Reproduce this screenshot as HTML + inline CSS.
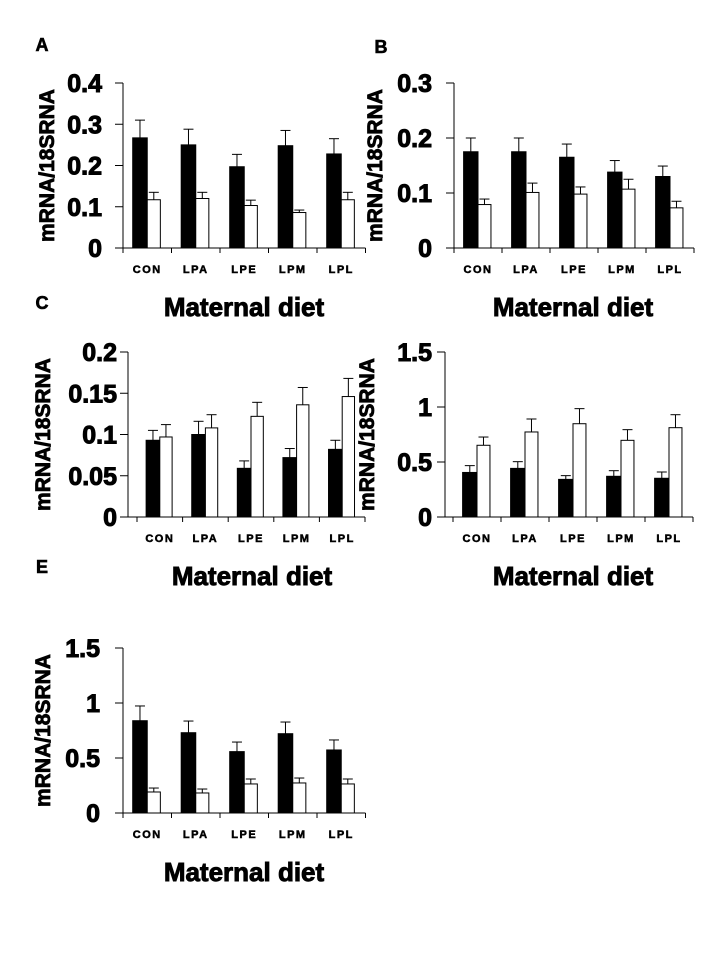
<!DOCTYPE html>
<html><head><meta charset="utf-8"><style>
html,body{margin:0;padding:0;background:#fff;}
svg{display:block;font-family:"Liberation Sans",Arial,sans-serif;font-weight:bold;}
</style></head><body>
<svg id="fig" width="717" height="955" viewBox="0 0 717 955" xmlns="http://www.w3.org/2000/svg"></svg>
<script>
const categories = ["CON","LPA","LPE","LPM","LPL"];
const aBlack = [0.267,0.25,0.197,0.248,0.228];
const aBlackErr = [0.31,0.288,0.227,0.285,0.265];
const aWhite = [0.117,0.12,0.103,0.086,0.117];
const aWhiteErr = [0.135,0.135,0.116,0.092,0.135];
const aTicks = ["0","0.1","0.2","0.3","0.4"];
const bBlack = [0.175,0.175,0.165,0.138,0.13];
const bBlackErr = [0.2,0.2,0.189,0.159,0.149];
const bWhite = [0.079,0.101,0.098,0.107,0.073];
const bWhiteErr = [0.089,0.118,0.111,0.125,0.085];
const bTicks = ["0","0.1","0.2","0.3"];
const cBlack = [0.093,0.1,0.059,0.072,0.082];
const cBlackErr = [0.105,0.116,0.068,0.083,0.093];
const cWhite = [0.097,0.108,0.122,0.136,0.146];
const cWhiteErr = [0.112,0.124,0.139,0.157,0.168];
const cTicks = ["0","0.05","0.1","0.15","0.2"];
const dBlack = [0.405,0.442,0.342,0.37,0.352];
const dBlackErr = [0.467,0.503,0.376,0.421,0.409];
const dWhite = [0.652,0.773,0.848,0.697,0.812];
const dWhiteErr = [0.727,0.891,0.985,0.794,0.93];
const dTicks = ["0","0.5","1","1.5"];
const eBlack = [0.839,0.73,0.558,0.721,0.573];
const eBlackErr = [0.973,0.836,0.645,0.827,0.664];
const eWhite = [0.191,0.182,0.264,0.273,0.264];
const eWhiteErr = [0.227,0.218,0.309,0.318,0.309];
const eTicks = ["0","0.5","1","1.5"];

const NS="http://www.w3.org/2000/svg";
const svg=document.getElementById('fig');
function mk(tag,attrs,parent,text){const e=document.createElementNS(NS,tag);for(const k in attrs)e.setAttribute(k,attrs[k]);if(text!==undefined)e.textContent=text;(parent||svg).appendChild(e);return e;}

function panel(id,letter,letterX,letterY,ax,top,zero,x0,gw,labelGap,yLabX,titleX,ticks,black,blackErr,white,whiteErr){
  const g=mk('g',{});
  
  
  const maxV=parseFloat(ticks[ticks.length-1]);
  const y=v=>zero-(v/maxV)*(zero-top);
  const xg=i=>x0+i*gw;
  if(letter){const t=mk('text',{x:letterX,y:letterY,'font-size':18,'text-anchor':'middle',stroke:'#000','stroke-width':0.6},g,letter);
    
    }
  const yl=mk('line',{x1:ax,y1:top,x2:ax,y2:zero,stroke:'#000','stroke-width':1},g);
  
  
  const xEnd=x0+5*gw;
  const xl=mk('line',{x1:ax-8,y1:zero,x2:xEnd,y2:zero,stroke:'#000','stroke-width':1},g);
  
  
  ticks.forEach(tv=>{
    const v=parseFloat(tv);
    mk('line',{x1:ax-8,y1:y(v),x2:ax,y2:y(v),stroke:'#000'},g);
    const t=mk('text',{x:ax-labelGap,y:y(v)+9,'font-size':25,'text-anchor':'end',stroke:'#000','stroke-width':1},g,tv);
    
    
  });
  for(let i=0;i<=5;i++) mk('line',{x1:xg(i),y1:zero,x2:xg(i),y2:zero+5,stroke:'#000'},g);
  const bw=gw*0.3;
  categories.forEach((c,i)=>{
    const cx=xg(i)+gw/2;
    const bx=cx-bw;
    const b=mk('rect',{x:bx,y:y(black[i]),width:bw,height:zero-y(black[i]),fill:'#000',stroke:'#000'},g);
    
    
    mk('line',{x1:bx+bw/2,y1:y(black[i]),x2:bx+bw/2,y2:y(blackErr[i]),stroke:'#000'},g);
    mk('line',{x1:bx+bw/2-5,y1:y(blackErr[i]),x2:bx+bw/2+5,y2:y(blackErr[i]),stroke:'#000'},g);
    const w=mk('rect',{x:cx,y:y(white[i]),width:bw*0.9,height:zero-y(white[i]),fill:'#fff',stroke:'#000'},g);
    
    
    const wc=cx+bw*0.45;
    mk('line',{x1:wc,y1:y(white[i]),x2:wc,y2:y(whiteErr[i]),stroke:'#000'},g);
    mk('line',{x1:wc-5,y1:y(whiteErr[i]),x2:wc+5,y2:y(whiteErr[i]),stroke:'#000'},g);
    const t=mk('text',{x:cx,y:zero+25,'font-size':11,'text-anchor':'middle','letter-spacing':'1.5',stroke:'#000','stroke-width':0.5},g,c);
    
    
  });
  const yt=mk('text',{x:0,y:0,'font-size':21,'text-anchor':'middle',stroke:'#000','stroke-width':0.8,transform:`translate(${yLabX},${(top+zero)/2}) rotate(-90)`},g,'mRNA/18SRNA');
  
  
  const xt=mk('text',{x:titleX,y:zero+68,'font-size':26,'text-anchor':'middle',stroke:'#000','stroke-width':0.9},g,'Maternal diet');
  
  
}
panel('a','A',42,51,123,83,248,123,48.5,21,54,244,aTicks,aBlack,aBlackErr,aWhite,aWhiteErr);
panel('b','B',381,53,454,83,248,454,48,22,382,573,bTicks,bBlack,bBlackErr,bWhite,bWhiteErr);
panel('c','C',42,309,128,352,517,137,45.6,11,50,252,cTicks,cBlack,cBlackErr,cWhite,cWhiteErr);
panel('d','',0,0,445,352,517,453,48,13,374,573,dTicks,dBlack,dBlackErr,dWhite,dWhiteErr);
panel('e','E',42,573,123,648,813,123,48.5,23,50,244,eTicks,eBlack,eBlackErr,eWhite,eWhiteErr);
</script>
</body></html>
